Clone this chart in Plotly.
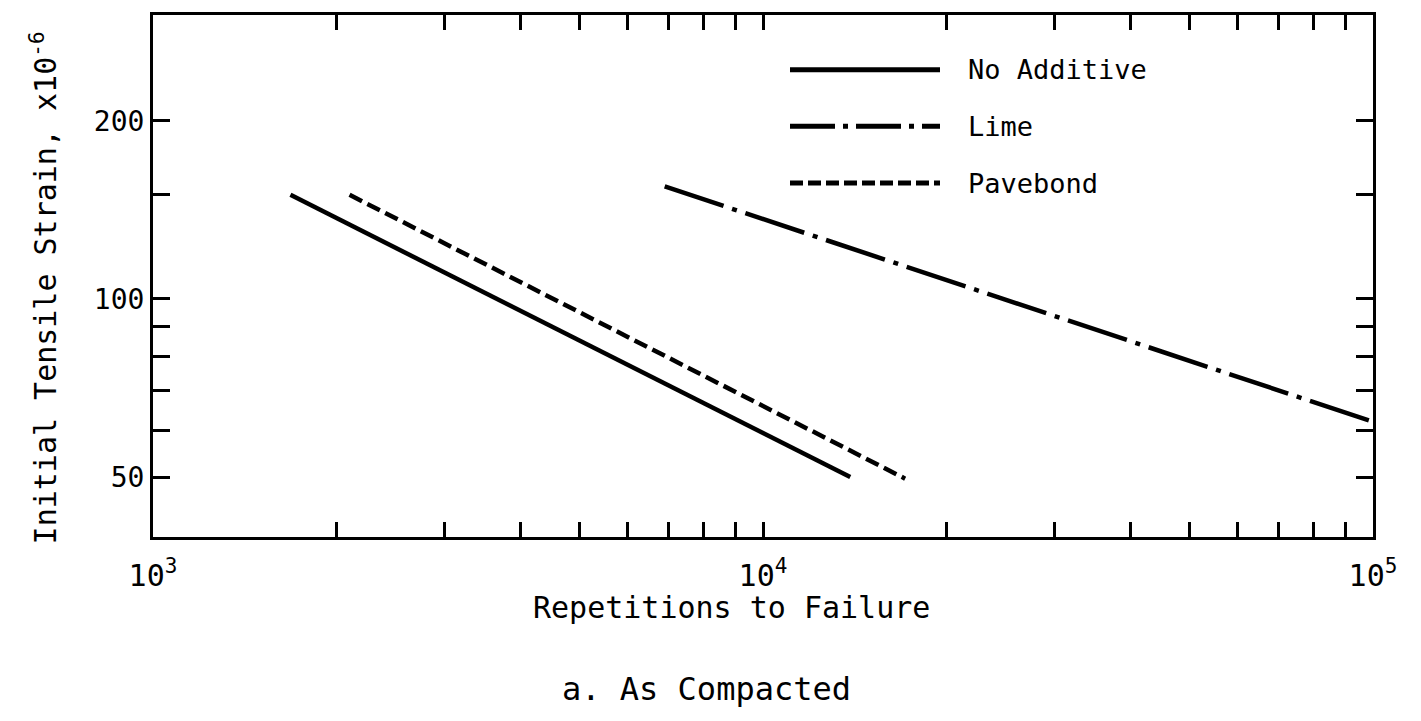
import plotly.graph_objects as go

# ---- data ----
series_names = ["No Additive", "Lime", "Pavebond"]
no_additive_x = [1680, 13900]
no_additive_y = [150, 50]
lime_x = [6900, 100000]
lime_y = [155, 62]
pavebond_x = [2100, 17100]
pavebond_y = [150, 49.7]

x_tick_vals = [m * 10 ** e for e in (3, 4) for m in range(1, 10)] + [100000]
x_tick_text = ["10<sup>3</sup>" if v == 1000 else "10<sup>4</sup>" if v == 10000
               else "10<sup>5</sup>" if v == 100000 else "" for v in x_tick_vals]
y_tick_vals = [50, 60, 70, 80, 90, 100, 150, 200]
y_tick_text = ["50", "", "", "", "", "100", "", "200"]

FONT = "DejaVu Sans Mono"
W, H = 1421, 721
L, R, T, B = 153, 1373, 12, 537


def px(xp):
    return (xp - L) / (R - L)


def py(yp):
    return (B - yp) / (B - T)


fig = go.Figure()
styles = {
    "No Additive": dict(dash="solid"),
    "Lime": dict(dash="62px,9px,5px,9px"),
    "Pavebond": dict(dash="14px,6px"),
}
for name, xs, ys in [("No Additive", no_additive_x, no_additive_y),
                     ("Lime", lime_x, lime_y),
                     ("Pavebond", pavebond_x, pavebond_y)]:
    fig.add_trace(go.Scatter(x=xs, y=ys, mode="lines", name=name,
                             line=dict(color="black", width=4.5, **styles[name]),
                             showlegend=False, cliponaxis=False))

# manual legend
legend_dash = {"No Additive": "solid", "Lime": "45px,8px,5px,8px", "Pavebond": "13px,5px"}
legend_y = [67, 124, 181]
shapes = []
annotations = []
for name, yp in zip(series_names, legend_y):
    shapes.append(dict(type="line", xref="paper", yref="paper",
                       x0=px(790), x1=px(940), y0=py(yp), y1=py(yp),
                       line=dict(color="black", width=5, dash=legend_dash[name])))
    annotations.append(dict(xref="paper", yref="paper", x=px(966), y=py(yp),
                            text=name, showarrow=False, xanchor="left", yanchor="middle",
                            font=dict(family=FONT, size=27, color="black")))

annotations.append(dict(xref="paper", yref="paper", x=px(731), y=py(608),
                        text="Repetitions to Failure", showarrow=False,
                        xanchor="center", yanchor="middle",
                        font=dict(family=FONT, size=30, color="black")))
annotations.append(dict(xref="paper", yref="paper", x=px(706), y=py(690),
                        text="a. As Compacted", showarrow=False,
                        xanchor="center", yanchor="middle",
                        font=dict(family=FONT, size=32, color="black")))
annotations.append(dict(xref="paper", yref="paper", x=px(44), y=py(287),
                        text="Initial Tensile Strain, x10<sup>-6</sup>", showarrow=False,
                        textangle=-90, xanchor="center", yanchor="middle",
                        font=dict(family=FONT, size=30, color="black")))

fig.update_layout(
    width=W, height=H,
    margin=dict(l=L, r=W - R, t=T, b=H - B),
    paper_bgcolor="white", plot_bgcolor="white",
    shapes=shapes, annotations=annotations,
    font=dict(family=FONT, color="black"),
)
fig.update_xaxes(type="log", range=[3, 5], tickmode="array",
                 tickvals=x_tick_vals, ticktext=x_tick_text,
                 ticks="inside", ticklen=15, tickwidth=2.5, tickcolor="black",
                 showline=True, linecolor="black", linewidth=3, mirror="allticks",
                 showgrid=False, zeroline=False, ticklabelstandoff=10,
                 tickfont=dict(family=FONT, size=30, color="black"))
fig.update_yaxes(type="log", range=[1.5977, 2.48], tickmode="array",
                 tickvals=y_tick_vals, ticktext=y_tick_text,
                 ticks="inside", ticklen=17, tickwidth=3, tickcolor="black",
                 showline=True, linecolor="black", linewidth=3, mirror="allticks",
                 showgrid=False, zeroline=False,
                 tickfont=dict(family=FONT, size=28, color="black"))

fig.write_html("out.html")
